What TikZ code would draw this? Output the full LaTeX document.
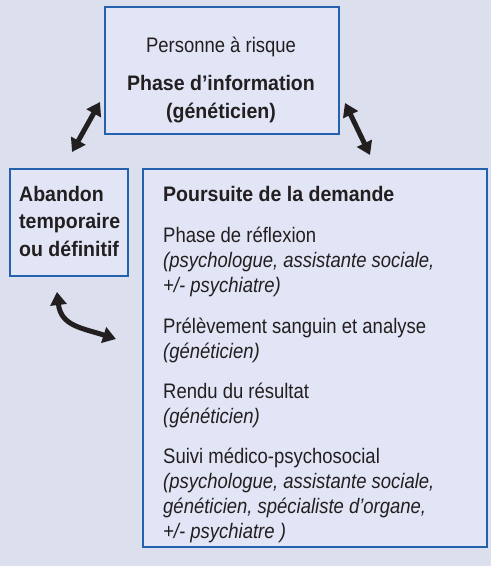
\documentclass[tikz,border=0pt]{standalone}
\usepackage{fontspec}
\setmainfont{Liberation Sans}[FakeStretch=0.88, BoldFeatures={FakeStretch=0.93}]
\usetikzlibrary{arrows.meta}
\definecolor{fond}{HTML}{DCE0EE}
\definecolor{cadre}{HTML}{2462AE}
\definecolor{boite}{HTML}{E1E5F5}
\definecolor{encre}{HTML}{231F20}

\begin{document}
\begin{tikzpicture}[x=1pt, y=-1pt,
  boite/.style={draw=cadre, line width=1.5pt, fill=boite, inner sep=0pt},
  texte/.style={anchor=north west, inner sep=0pt, align=left, text=encre, font=\fontsize{21}{25}\selectfont},
  fleche/.style={draw=encre, line width=5pt, {Triangle[length=13pt,width=16pt]}-{Triangle[length=13pt,width=16pt]}}]
        \useasboundingbox (0,0) rectangle (491,567);
        \fill[fond] (0,0) rectangle (491,566);

        % les trois cadres
        \node[boite, minimum width=234pt, minimum height=127pt] (info) at (222,70.5) {};
        \node[boite, minimum width=118pt, minimum height=107pt] (aband) at (69,222.5) {};
        \node[boite, minimum width=344pt, minimum height=378pt] (pours) at (315,358) {};

        % textes
        \node[texte, anchor=north, align=center] (pers) at (221,37) {Personne à risque};
        \node[texte, anchor=north, align=center, font=\fontsize{21}{28}\selectfont\bfseries] (phase) at (221,75) {Phase d’information\\(généticien)};
        \node[texte, font=\fontsize{21}{27.5}\selectfont\bfseries] (abtxt) at (19,186) {Abandon\\temporaire\\ou définitif};
        \node[texte, font=\fontsize{21}{25}\selectfont\bfseries] (demande) at (163,186) {Poursuite de la demande};
        \node[texte] (refl) at (163,227) {Phase de réflexion\\\textit{(psychologue, assistante sociale,}\\\textit{+/- psychiatre)}};
        \node[texte] (prel) at (163,318) {Prélèvement sanguin et analyse\\\textit{(généticien)}};
        \node[texte] (rendu) at (163,383) {Rendu du résultat\\\textit{(généticien)}};
        \node[texte] (suivi) at (163,448) {Suivi médico-psychosocial\\\textit{(psychologue, assistante sociale,}\\\textit{généticien, spécialiste d’organe,}\\\textit{+/- psychiatre )}};

        % fleches
        \coordinate (f1a) at (100,102);
        \coordinate (f1b) at (72,152);
        \coordinate (f2a) at (345,103);
        \coordinate (f2b) at (370,155);
        \coordinate (f3a) at (57,292);
        \coordinate (f3b) at (116,339);
        \draw[fleche] (f1a) -- (f1b);
        \draw[fleche] (f2a) -- (f2b);
        \draw[fleche] (f3a) .. controls (61,326) and (82,328) .. (f3b);
\end{tikzpicture}
\end{document}
